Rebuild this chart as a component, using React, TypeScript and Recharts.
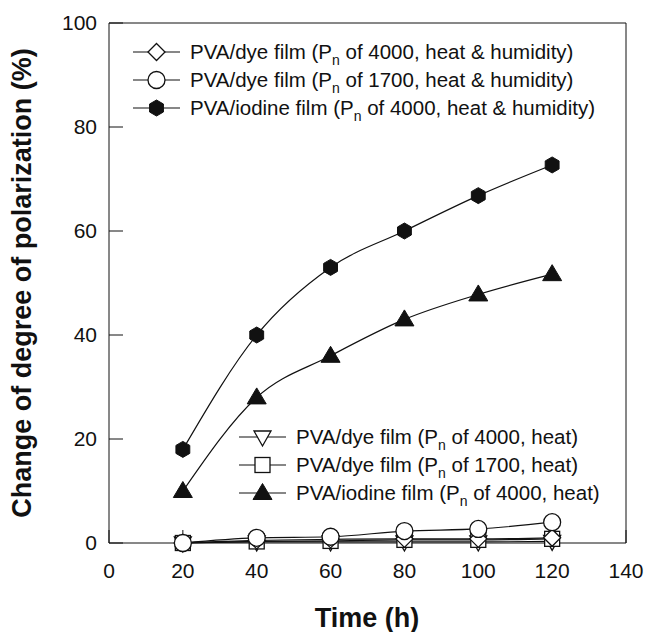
import React from 'react';
import { LineChart, Line, XAxis, YAxis, ReferenceLine, Customized } from 'recharts';

const time = [20, 40, 60, 80, 100, 120];
const dye4000Humid = [0, 0.5, 0.7, 0.8, 0.8, 1.0];
const dye1700Humid = [0, 1.0, 1.2, 2.3, 2.7, 4.0];
const iodine4000Humid = [18, 40, 53, 60, 66.8, 72.7];
const dye4000Heat = [0, 0.2, 0.2, 0.2, 0.2, 0.3];
const dye1700Heat = [0, 0.3, 0.4, 0.6, 0.6, 0.8];
const iodine4000Heat = [10, 28, 36, 43, 47.8, 51.7];

const xTicks = [0, 20, 40, 60, 80, 100, 120, 140];
const yTicks = [0, 20, 40, 60, 80, 100];

const data = time.map((t, i) => ({
  t,
  dye4000Humid: dye4000Humid[i],
  dye1700Humid: dye1700Humid[i],
  iodine4000Humid: iodine4000Humid[i],
  dye4000Heat: dye4000Heat[i],
  dye1700Heat: dye1700Heat[i],
  iodine4000Heat: iodine4000Heat[i],
}));

const FONT = '"Liberation Sans", Arial, sans-serif';
const INK = '#111';

type Shape = 'diamond' | 'circle' | 'hexagon' | 'down' | 'square' | 'up';

const marker = (shape: Shape, cx: number, cy: number, key?: string) => {
  switch (shape) {
    case 'diamond':
      return <path key={key} d={`M${cx},${cy - 8.5}L${cx + 8.5},${cy}L${cx},${cy + 8.5}L${cx - 8.5},${cy}Z`} fill="#fff" stroke={INK} strokeWidth={1.3} />;
    case 'circle':
      return <circle key={key} cx={cx} cy={cy} r={8.5} fill="#fff" stroke={INK} strokeWidth={1.3} />;
    case 'hexagon': {
      const pts = [0, 1, 2, 3, 4, 5]
        .map(k => {
          const a = (Math.PI / 3) * k - Math.PI / 2;
          return `${cx + 8 * Math.cos(a)},${cy + 8 * Math.sin(a)}`;
        })
        .join(' ');
      return <polygon key={key} points={pts} fill={INK} stroke={INK} />;
    }
    case 'down':
      return <path key={key} d={`M${cx - 8.5},${cy - 6}L${cx + 8.5},${cy - 6}L${cx},${cy + 9}Z`} fill="#fff" stroke={INK} strokeWidth={1.3} />;
    case 'square':
      return <rect key={key} x={cx - 7.5} y={cy - 7.5} width={15} height={15} fill="#fff" stroke={INK} strokeWidth={1.3} />;
    case 'up':
      return <path key={key} d={`M${cx},${cy - 9.5}L${cx + 9.5},${cy + 6.5}L${cx - 9.5},${cy + 6.5}Z`} fill={INK} stroke={INK} />;
  }
};

const dotFor = (shape: Shape) => (p: any) => marker(shape, p.cx, p.cy, `${shape}-${p.index}`);

const topLegend: [Shape, string, string][] = [
  ['diamond', 'PVA/dye film (P', ' of 4000, heat & humidity)'],
  ['circle', 'PVA/dye film (P', ' of 1700, heat & humidity)'],
  ['hexagon', 'PVA/iodine film (P', ' of 4000, heat & humidity)'],
];
const bottomLegend: [Shape, string, string][] = [
  ['down', 'PVA/dye film (P', ' of 4000, heat)'],
  ['square', 'PVA/dye film (P', ' of 1700, heat)'],
  ['up', 'PVA/iodine film (P', ' of 4000, heat)'],
];

const LegendBlock = ({ items, x, y }: { items: [Shape, string, string][]; x: number; y: number }) => (
  <g>
    {items.map(([shape, a, b], i) => {
      const cy = y + i * 28;
      return (
        <g key={i}>
          <line x1={x} x2={x + 47} y1={cy} y2={cy} stroke={INK} strokeWidth={1.2} />
          {marker(shape, x + 23.5, cy)}
          <text x={x + 57} y={cy + 7} fontSize={20.5} fontFamily={FONT} fill={INK}>
            {a}
            <tspan dy={6} fontSize={14}>n</tspan>
            <tspan dy={-6}>{b}</tspan>
          </text>
        </g>
      );
    })}
  </g>
);

const AxisTitles = () => (
  <g fontFamily={FONT} fontWeight="bold" fontSize={27} fill={INK}>
    <text x={367} y={627} textAnchor="middle">Time (h)</text>
    <text x={22} y={283} textAnchor="middle" dominantBaseline="central" transform="rotate(-90 22 283)">
      Change of degree of polarization (%)
    </text>
  </g>
);

const series: [keyof typeof data[0], Shape][] = [
  ['dye4000Heat', 'down'],
  ['dye1700Heat', 'square'],
  ['dye4000Humid', 'diamond'],
  ['dye1700Humid', 'circle'],
  ['iodine4000Heat', 'up'],
  ['iodine4000Humid', 'hexagon'],
];

export default function App() {
  return (
    <div style={{ position: 'absolute', left: 0, top: 0, background: '#fff' }}>
      <LineChart width={649} height={632} data={data} margin={{ top: 23, right: 23, bottom: 0, left: 0 }}>
        <XAxis
          dataKey="t"
          type="number"
          domain={[0, 140]}
          ticks={xTicks}
          height={89}
          tickSize={-13}
          tickMargin={33}
          stroke={INK}
          tick={{ fill: INK, fontSize: 21, fontFamily: FONT }}
        />
        <YAxis
          type="number"
          domain={[0, 100]}
          ticks={yTicks}
          width={109}
          tickSize={-14}
          tickMargin={26}
          stroke={INK}
          tick={{ fill: INK, fontSize: 21, fontFamily: FONT }}
        />
        <ReferenceLine y={100} stroke={INK} />
        <ReferenceLine x={140} stroke={INK} />
        {series.map(([key, shape]) => (
          <Line
            key={key}
            dataKey={key}
            type="monotone"
            stroke={INK}
            strokeWidth={1.2}
            dot={dotFor(shape)}
            activeDot={false}
            isAnimationActive={false}
          />
        ))}
        <Customized component={() => <LegendBlock items={topLegend} x={133} y={52} />} />
        <Customized component={() => <LegendBlock items={bottomLegend} x={239} y={437} />} />
        <Customized component={AxisTitles} />
      </LineChart>
    </div>
  );
}
